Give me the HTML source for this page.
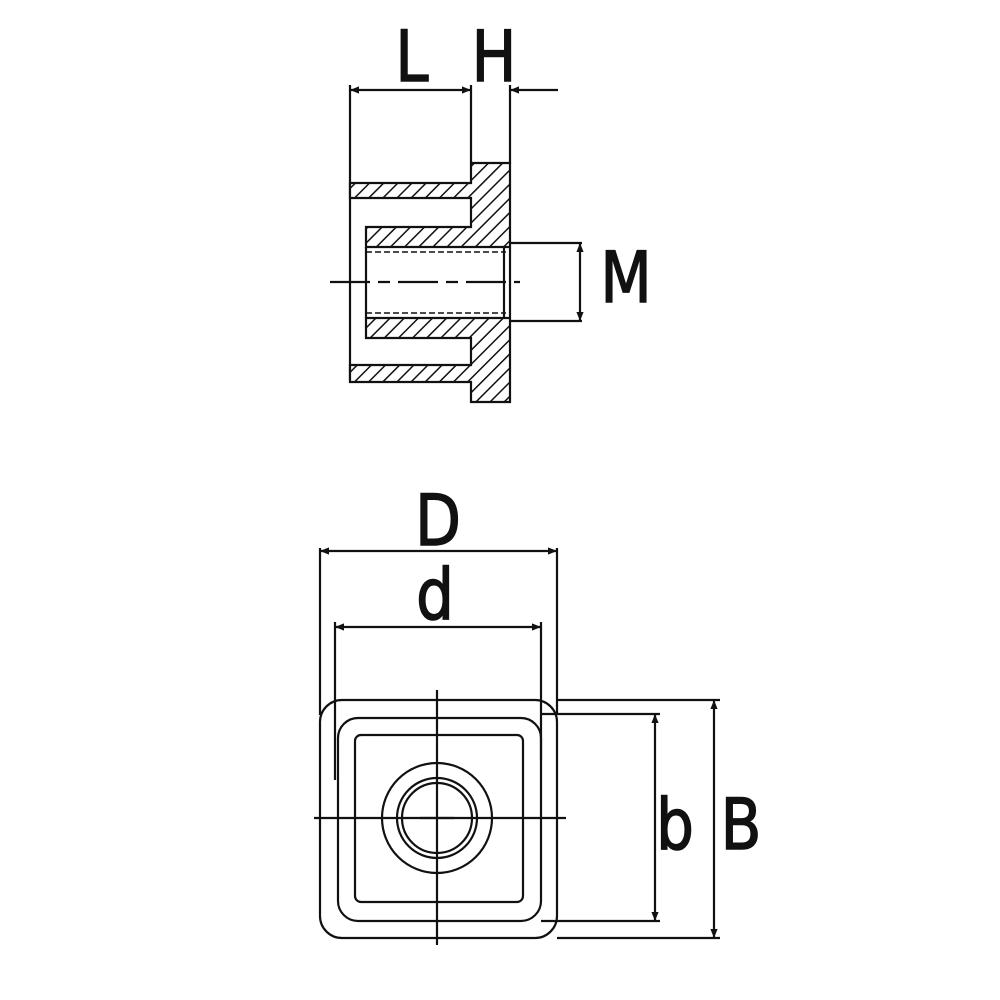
<!DOCTYPE html>
<html><head><style>html,body{margin:0;padding:0;background:#fff}svg{display:block}</style></head>
<body>
<svg width="1000" height="1000" viewBox="0 0 1000 1000" xmlns="http://www.w3.org/2000/svg">
<defs>
<pattern id="h" width="10" height="10" patternUnits="userSpaceOnUse" patternTransform="rotate(45)">
<rect width="10" height="10" fill="#fff"/><line x1="0" y1="0" x2="0" y2="10" stroke="#111" stroke-width="3"/>
</pattern>
<marker id="a" viewBox="0 0 10 10" refX="10" refY="5" markerWidth="20" markerHeight="9" markerUnits="userSpaceOnUse" orient="auto-start-reverse"><path d="M0,1 L10,5 L0,9 Z" fill="#111"/></marker>
</defs>
<g stroke="#111" stroke-width="2.2" fill="none">
<line x1="350" y1="85" x2="350" y2="380"/>
<line x1="471" y1="85" x2="471" y2="163"/>
<line x1="510" y1="85" x2="510" y2="163"/>
<path d="M471,163 H510 V402 H471 V382 H350 V365 H471 V338 H366 V318 H510 V247 H366 V227 H471 V198 H350 V183 H471 Z" fill="url(#h)"/>
<line x1="366" y1="247" x2="366" y2="318"/>
<line x1="366" y1="252" x2="506" y2="252" stroke-dasharray="6,3" stroke-width="1.5"/>
<line x1="366" y1="313" x2="506" y2="313" stroke-dasharray="6,3" stroke-width="1.5"/>
<line x1="504" y1="247" x2="504" y2="318"/>
<line x1="330" y1="282" x2="520" y2="282" stroke-dasharray="40,8,12,8"/>
<line x1="510" y1="243" x2="582" y2="243"/>
<line x1="510" y1="321" x2="582" y2="321"/>
<line x1="580" y1="243" x2="580" y2="321" marker-start="url(#a)" marker-end="url(#a)"/>
<line x1="350" y1="90" x2="471" y2="90" marker-start="url(#a)" marker-end="url(#a)"/>
<line x1="558" y1="90" x2="510" y2="90" marker-end="url(#a)"/>
<line x1="320" y1="548" x2="320" y2="715"/>
<line x1="557" y1="548" x2="557" y2="715"/>
<line x1="320" y1="551" x2="557" y2="551" marker-start="url(#a)" marker-end="url(#a)"/>
<line x1="335" y1="622" x2="335" y2="780"/>
<line x1="541" y1="622" x2="541" y2="760"/>
<line x1="335" y1="627" x2="541" y2="627" marker-start="url(#a)" marker-end="url(#a)"/>
<rect x="320" y="700" width="237" height="238" rx="22"/>
<rect x="338" y="718" width="203" height="203" rx="20"/>
<rect x="355" y="735" width="168" height="167" rx="6"/>
<circle cx="437" cy="818" r="55"/>
<circle cx="437" cy="818" r="40"/>
<circle cx="437" cy="818" r="35"/>
<line x1="437" y1="690" x2="437" y2="945"/>
<line x1="314" y1="818" x2="566" y2="818"/>
<line x1="420" y1="818" x2="454" y2="818"/>
<line x1="541" y1="714" x2="660" y2="714"/>
<line x1="541" y1="921" x2="660" y2="921"/>
<line x1="655" y1="714" x2="655" y2="921" marker-start="url(#a)" marker-end="url(#a)"/>
<line x1="557" y1="700" x2="720" y2="700"/>
<line x1="557" y1="938" x2="720" y2="938"/>
<line x1="714" y1="700" x2="714" y2="938" marker-start="url(#a)" marker-end="url(#a)"/>
</g>
<g font-family="'DejaVu Sans','Liberation Sans',sans-serif" font-size="70" fill="#111" stroke="#111" stroke-width="1.5" text-anchor="middle">
<text x="412" y="81" transform="translate(412,0) scale(0.85,1) translate(-412,0)">L</text>
<text x="494" y="81" transform="translate(494,0) scale(0.85,1) translate(-494,0)">H</text>
<text x="626" y="302" transform="translate(626,0) scale(0.85,1) translate(-626,0)">M</text>
<text x="438" y="545" transform="translate(438,0) scale(0.85,1) translate(-438,0)">D</text>
<text x="435" y="619" transform="translate(435,0) scale(0.85,1) translate(-435,0)">d</text>
<text x="675" y="849" transform="translate(675,0) scale(0.85,1) translate(-675,0)">b</text>
<text x="741" y="849" transform="translate(741,0) scale(0.85,1) translate(-741,0)">B</text>
</g>
</svg>
</body></html>
